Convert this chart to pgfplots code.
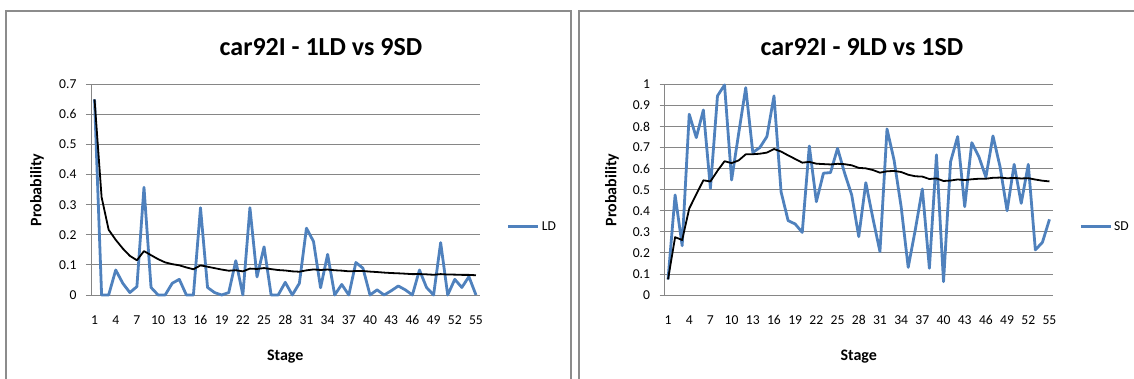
\documentclass[border=0pt]{standalone}
\usepackage{pgfplots}
\pgfplotsset{compat=1.18}
\usepackage{pgfplotstable}
\usepackage{fontspec}
\setmainfont{Carlito}

\definecolor{ldblue}{RGB}{79,129,189}
\definecolor{gridgray}{RGB}{134,134,134}
\definecolor{framegray}{RGB}{140,140,140}

% stage, probability of the run, cumulative mean
\pgfplotstableread{
stage p avg
1 0.650 0.6500
2 0 0.3250
3 0 0.2167
4 0.083 0.1833
5 0.039 0.1544
6 0.008 0.1300
7 0.028 0.1154
8 0.358 0.1458
9 0.025 0.1323
10 0 0.1191
11 0 0.1083
12 0.039 0.1025
13 0.052 0.0986
14 0 0.0916
15 0 0.0855
16 0.290 0.0983
17 0.025 0.0939
18 0.008 0.0892
19 0 0.0845
20 0.008 0.0807
21 0.114 0.0822
22 0 0.0785
23 0.290 0.0877
24 0.060 0.0865
25 0.160 0.0895
26 0 0.0860
27 0 0.0829
28 0.042 0.0814
29 0 0.0786
30 0.039 0.0773
31 0.222 0.0819
32 0.178 0.0849
33 0.024 0.0831
34 0.135 0.0846
35 0 0.0822
36 0.035 0.0809
37 0 0.0787
38 0.108 0.0795
39 0.089 0.0797
40 0 0.0777
41 0.017 0.0762
42 0 0.0744
43 0.014 0.0730
44 0.030 0.0720
45 0.017 0.0708
46 0 0.0693
47 0.083 0.0696
48 0.025 0.0686
49 0 0.0672
50 0.174 0.0694
51 0 0.0680
52 0.052 0.0677
53 0.025 0.0669
54 0.061 0.0668
55 0 0.0656
}\ldtable

\pgfplotstableread{
stage p avg
1 0.074 0.0740
2 0.475 0.2745
3 0.234 0.2610
4 0.858 0.4103
5 0.747 0.4776
6 0.878 0.5443
7 0.506 0.5389
8 0.945 0.5896
9 0.997 0.6349
10 0.546 0.6260
11 0.767 0.6388
12 0.984 0.6676
13 0.676 0.6682
14 0.700 0.6705
15 0.752 0.6759
16 0.945 0.6928
17 0.490 0.6808
18 0.353 0.6626
19 0.337 0.6455
20 0.297 0.6281
21 0.707 0.6318
22 0.443 0.6232
23 0.578 0.6213
24 0.581 0.6196
25 0.696 0.6226
26 0.578 0.6209
27 0.475 0.6155
28 0.277 0.6034
29 0.533 0.6010
30 0.364 0.5931
31 0.206 0.5806
32 0.788 0.5871
33 0.640 0.5887
34 0.419 0.5837
35 0.131 0.5708
36 0.309 0.5635
37 0.503 0.5619
38 0.127 0.5504
39 0.665 0.5534
40 0.063 0.5411
41 0.633 0.5433
42 0.752 0.5483
43 0.419 0.5453
44 0.723 0.5493
45 0.657 0.5517
46 0.559 0.5519
47 0.755 0.5562
48 0.609 0.5573
49 0.400 0.5541
50 0.620 0.5554
51 0.435 0.5531
52 0.620 0.5543
53 0.214 0.5479
54 0.250 0.5424
55 0.359 0.5391
}\sdtable

\pgfplotsset{
  stagechart/.style={
    scale only axis, width=388.5pt, height=210.7pt,
    xmin=0.5, xmax=55.5, ymin=0,
    xtick={1,4,...,55},
    axis x line*=bottom, axis y line*=left,
    axis line style={gridgray, line width=0.8pt},
    ymajorgrids, major grid style={gridgray, line width=0.8pt},
    tick align=outside, major tick length=5pt,
    xtick style={draw=none}, ytick style={gridgray, line width=0.8pt},
    tick label style={font=\fontsize{13.6}{16}\selectfont},
    /pgf/number format/assume math mode=true,
    yticklabel style={/pgf/number format/fixed, /pgf/number format/precision=1, xshift=-6pt},
    xticklabel style={yshift=-12pt},
    xlabel={Stage}, ylabel={Probability},
    every axis x label/.style={at={(axis description cs:0.5,-0.294)}, anchor=center,
      font=\fontsize{16}{19}\selectfont\bfseries},
    every axis y label/.style={at={(axis description cs:-0.139,0.498)}, anchor=center,
      rotate=90, font=\fontsize{16}{19}\selectfont\bfseries},
    clip=false,
    legend style={draw=none, fill=none, inner sep=0pt, outer sep=0pt,
      font=\fontsize{13.6}{16}\selectfont},
    legend cell align=left,
    legend image code/.code={\draw[#1] (0pt,0pt) -- (30pt,0pt);},
  },
  runline/.style={ldblue, line width=2.8pt, line join=round},
  meanline/.style={black, line width=1.8pt, line join=round, forget plot},
}

\begin{document}
\begin{tikzpicture}
\path[use as bounding box] (0pt,0pt) rectangle (1134pt,379pt);

% panel frames
\draw[framegray, line width=1.5pt] (6pt,0pt) -- (6pt,368pt) -- (571pt,368pt) -- (571pt,0pt);
\draw[framegray, line width=1.5pt] (579pt,0pt) -- (579pt,368pt) -- (1136pt,368pt);

% left panel
\begin{axis}[stagechart, at={(91pt,84pt)}, anchor=south west, ymax=0.7,
    ytick={0,0.1,0.2,0.3,0.4,0.5,0.6,0.7},
    legend style={at={(1.071,0.324)}, anchor=west}]
\addplot[runline] table[x=stage, y=p] {\ldtable};
\addlegendentry{LD}
\addplot[meanline] table[x=stage, y=avg] {\ldtable};
\end{axis}
\node[font=\fontsize{26}{31}\selectfont\bfseries] at (321pt,332pt) {car92I - 1LD vs 9SD};

% right panel
\begin{axis}[stagechart, at={(664.5pt,84pt)}, anchor=south west, ymax=1,
    ytick={0,0.1,0.2,0.3,0.4,0.5,0.6,0.7,0.8,0.9,1},
    every axis y label/.append style={at={(axis description cs:-0.135,0.498)}},
    legend style={at={(1.068,0.324)}, anchor=west}]
\addplot[runline] table[x=stage, y=p] {\sdtable};
\addlegendentry{SD}
\addplot[meanline] table[x=stage, y=avg] {\sdtable};
\end{axis}
\node[font=\fontsize{26}{31}\selectfont\bfseries] at (862pt,332pt) {car92I - 9LD vs 1SD};
\end{tikzpicture}
\end{document}
